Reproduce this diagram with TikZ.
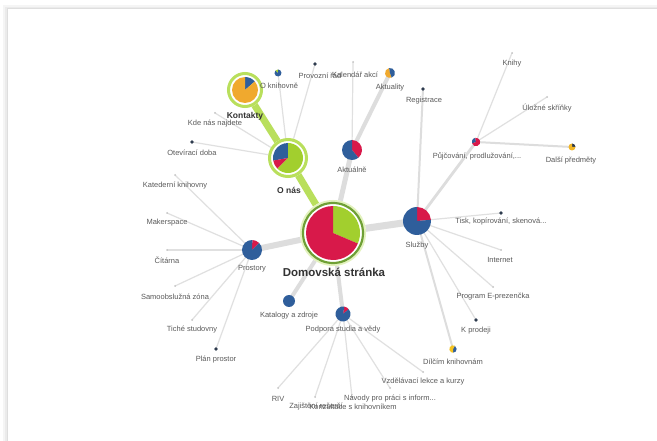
\documentclass[tikz,border=0pt]{standalone}
\usepackage{fontspec}
\setmainfont{Liberation Sans}
\usetikzlibrary{backgrounds}
\definecolor{pred}{HTML}{D8194A}
\definecolor{pblue}{HTML}{2F5E9B}
\definecolor{pgreen}{HTML}{A2CF2E}
\definecolor{porange}{HTML}{F0A92E}
\definecolor{edgegray}{HTML}{DDDDDD}
\definecolor{thingray}{HTML}{E0E0E0}
\definecolor{ringgreen}{HTML}{B9DF5C}
\definecolor{darkring}{HTML}{6FA035}
\definecolor{lbl}{HTML}{5A5A5A}
\definecolor{lblbold}{HTML}{333333}
\definecolor{dotdark}{HTML}{2E3B4E}
\definecolor{dotlight}{HTML}{C4C4C4}
\newcommand\pslice[5]{\fill[#5] (#1.center) -- ++(#3:#2pt) arc[start angle=#3, end angle=#4, radius=#2pt] -- cycle;}
\newcommand\pfull[3]{\fill[#3] (#1.center) circle[radius=#2pt];}
\begin{document}
\begin{tikzpicture}[x=1pt,y=1pt,
  hub/.style={circle,inner sep=0pt,minimum size=2pt},
  leafdark/.style={circle,inner sep=0pt,minimum size=3.6pt,fill=dotdark},
  leaflight/.style={circle,inner sep=0pt,minimum size=2pt,fill=dotlight},
  lab/.style={text=lbl,font=\fontsize{7.5}{9}\selectfont,inner sep=1pt},
  labbold/.style={text=lblbold,font=\bfseries\fontsize{8.5}{10}\selectfont,inner sep=1pt},
  thin/.style={draw=thingray,line width=1.2pt},
  thick/.style={draw=edgegray,line width=#1},
  greenedge/.style={draw=ringgreen,line width=7pt}]
\useasboundingbox (0,0) rectangle (657,-441);
% hubs
\node[hub] (dom) at (333,-233) {};
\node[hub] (onas) at (288,-158) {};
\node[hub] (kont) at (245,-90) {};
\node[hub] (sluz) at (417,-221) {};
\node[hub] (pros) at (252,-250) {};
\node[hub] (aktn) at (352,-150) {};
\node[hub] (kat) at (289,-301) {};
\node[hub] (podp) at (343,-314) {};
\node[hub] (akty) at (390,-73) {};
\node[hub] (okn) at (278,-73) {};
\node[hub] (pujc) at (476,-142) {};
\node[hub] (dalsi) at (572,-147) {};
\node[hub] (dilc) at (453,-349) {};
% leaves
\node[leafdark] (prov) at (315,-64) {};
\node[leaflight] (kal) at (353,-62) {};
\node[leaflight] (kde) at (215,-113) {};
\node[leafdark] (otev) at (192,-142) {};
\node[leaflight] (kated) at (175,-175) {};
\node[leaflight] (maker) at (167,-213) {};
\node[leaflight] (cit) at (167,-250) {};
\node[leaflight] (samo) at (175,-286) {};
\node[leaflight] (tiche) at (192,-320) {};
\node[leafdark] (plan) at (216,-349) {};
\node[leafdark] (tisk) at (501,-213) {};
\node[leaflight] (inter) at (501,-250) {};
\node[leaflight] (prog) at (493,-287) {};
\node[leafdark] (kprod) at (476,-320) {};
\node[leafdark] (reg) at (423,-89) {};
\node[leaflight] (knihy) at (512,-53) {};
\node[leaflight] (uloz) at (547,-97) {};
\node[leaflight] (riv) at (278,-388) {};
\node[leaflight] (zaj) at (315,-397) {};
\node[leaflight] (konz) at (352,-397) {};
\node[leaflight] (navo) at (390,-388) {};
\node[leaflight] (vzde) at (423,-372) {};
\begin{scope}[on background layer]
\fill[white] (0,0) rectangle (657,-441);
\fill[black!4] (3,-5) rectangle (657,-441);
\fill[black!8] (5,-7) rectangle (657,-441);
\fill[black!13] (6.5,-8) rectangle (657,-441);
\fill[white] (8,-9) rectangle (657,-441);
% edges
\draw[thin] (onas.center) -- (okn.center);
\draw[thin] (onas.center) -- (prov.center);
\draw[thin] (onas.center) -- (kde.center);
\draw[thin] (onas.center) -- (otev.center);
\draw[thin] (aktn.center) -- (kal.center);
\foreach \t in {kated,maker,cit,samo,tiche,plan} \draw[thin] (pros.center) -- (\t.center);
\foreach \t in {tisk,inter,prog,kprod} \draw[thin] (sluz.center) -- (\t.center);
\draw[thick=2pt] (sluz.center) -- (dilc.center);
\draw[thick=2pt] (sluz.center) -- (reg.center);
\draw[thick=2.8pt] (sluz.center) -- (pujc.center);
\draw[thin] (pujc.center) -- (knihy.center);
\draw[thin] (pujc.center) -- (uloz.center);
\draw[thick=2pt] (pujc.center) -- (dalsi.center);
\foreach \t in {riv,zaj,konz,navo,vzde} \draw[thin] (podp.center) -- (\t.center);
\draw[thick=7pt] (dom.center) -- (sluz.center);
\draw[thick=6pt] (dom.center) -- (pros.center);
\draw[thick=5pt] (dom.center) -- (aktn.center);
\draw[thick=4pt] (dom.center) -- (kat.center);
\draw[thick=4pt] (dom.center) -- (podp.center);
\draw[thick=4pt] (aktn.center) -- (akty.center);
\draw[greenedge] (dom.center) -- (onas.center);
\draw[greenedge] (onas.center) -- (kont.center);
\end{scope}
% main pie
\fill[white] (dom.center) circle[radius=33pt];
\draw[ringgreen!40,line width=2pt] (dom.center) circle[radius=32pt];
\draw[darkring,line width=2.2pt] (dom.center) circle[radius=30pt];
\pslice{dom}{27}{-23}{90}{pgreen}
\pslice{dom}{27}{90}{337}{pred}
% O nas
\fill[white] (onas.center) circle[radius=20pt];
\draw[ringgreen,line width=3pt] (onas.center) circle[radius=18.5pt];
\pslice{onas}{15}{90}{190}{pblue}
\pslice{onas}{15}{190}{225}{pred}
\pslice{onas}{15}{225}{450}{pgreen}
% Kontakty
\fill[white] (kont.center) circle[radius=18pt];
\draw[ringgreen,line width=3pt] (kont.center) circle[radius=16.5pt];
\pslice{kont}{13}{41}{90}{pblue}
\pslice{kont}{13}{90}{401}{porange}
% others
\pslice{sluz}{14}{5}{90}{pred}
\pslice{sluz}{14}{90}{365}{pblue}
\pslice{pros}{10}{45}{88}{pred}
\pslice{pros}{10}{88}{405}{pblue}
\pslice{aktn}{10}{-50}{90}{pred}
\pslice{aktn}{10}{90}{310}{pblue}
\pfull{kat}{6}{pblue}
\pslice{podp}{7.5}{40}{80}{pred}
\pslice{podp}{7.5}{80}{400}{pblue}
\pslice{akty}{5}{100}{290}{porange}
\pslice{akty}{5}{290}{460}{pblue}
\pslice{okn}{3.5}{90}{140}{pgreen}
\pslice{okn}{3.5}{140}{450}{pblue}
\pslice{pujc}{4.2}{100}{200}{pblue}
\pslice{pujc}{4.2}{200}{460}{pred}
\pslice{dalsi}{3.5}{0}{90}{dotdark}
\pslice{dalsi}{3.5}{90}{360}{porange!85!yellow}
\pslice{dilc}{3.7}{-90}{60}{pblue}
\pslice{dilc}{3.7}{60}{270}{porange!70!yellow}
% labels
\node[text=lblbold,font=\bfseries\fontsize{11.5}{13}\selectfont] (ldom) at (334,-272) {Domovská stránka};
\node[labbold] (lonas) at (289,-190) {O nás};
\node[labbold] (lkont) at (245,-116) {Kontakty};
\node[lab] (lsluz) at (417,-246) {Služby};
\node[lab] (lpros) at (252,-269) {Prostory};
\node[lab] (laktn) at (352,-170) {Aktuálně};
\node[lab] (lkat) at (289,-316) {Katalogy a zdroje};
\node[lab] (lpodp) at (343,-330) {Podpora studia a vědy};
\node[lab] (lakty) at (390,-88) {Aktuality};
\node[lab] (lokn) at (279,-86) {O knihovně};
\node[lab] (lprov) at (320,-76) {Provozní řád};
\node[lab] (lkal) at (355,-75) {Kalendář akcí};
\node[lab] (lkde) at (215,-124) {Kde nás najdete};
\node[lab] (lotev) at (192,-153) {Otevírací doba};
\node[lab] (lkated) at (175,-186) {Katederní knihovny};
\node[lab] (lmaker) at (167,-223) {Makerspace};
\node[lab] (lcit) at (167,-260) {Čítárna};
\node[lab] (lsamo) at (175,-297) {Samoobslužná zóna};
\node[lab] (ltiche) at (192,-330) {Tiché studovny};
\node[lab] (lplan) at (216,-360) {Plán prostor};
\node[lab] (ltisk) at (501,-222) {Tisk, kopírování, skenová...};
\node[lab] (linter) at (500,-260) {Internet};
\node[lab] (lprog) at (493,-297) {Program E-prezenčka};
\node[lab] (lkprod) at (476,-331) {K prodeji};
\node[lab] (ldilc) at (453,-362) {Dílčím knihovnám};
\node[lab] (lpujc) at (477,-156) {Půjčování, prodlužování,...};
\node[lab] (lreg) at (424,-101) {Registrace};
\node[lab] (lknihy) at (512,-64) {Knihy};
\node[lab] (luloz) at (547,-108) {Úložné skříňky};
\node[lab] (ldalsi) at (571,-161) {Další předměty};
\node[lab] (lriv) at (278,-399) {RIV};
\node[lab] (lzaj) at (316,-407) {Zajištění rešerší};
\node[lab] (lkonz) at (353,-407) {Konzultace s knihovníkem};
\node[lab] (lnavo) at (390,-399) {Návody pro práci s inform...};
\node[lab] (lvzde) at (423,-382) {Vzdělávací lekce a kurzy};
\end{tikzpicture}
\end{document}
